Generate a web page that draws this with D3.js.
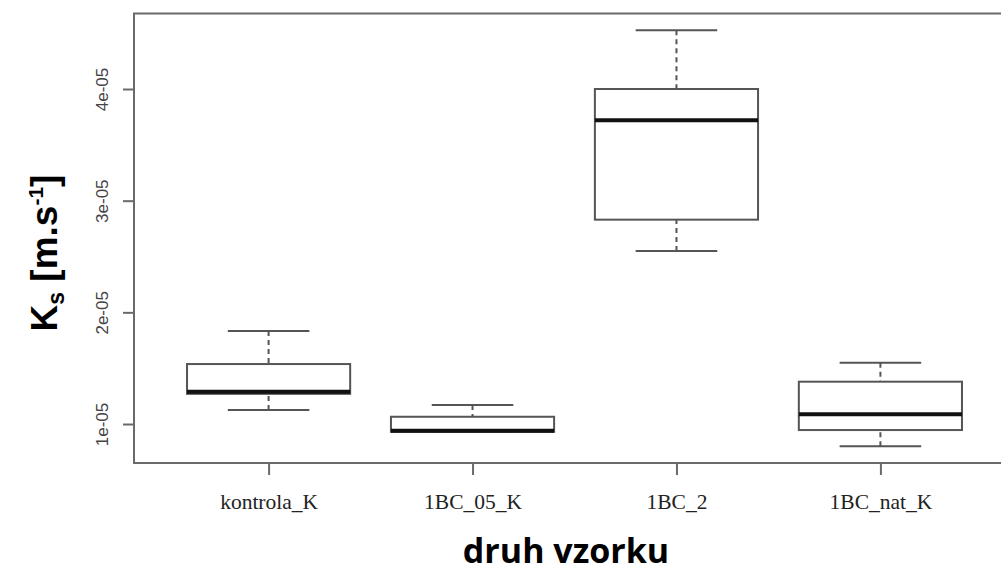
<!DOCTYPE html>
<html>
<head>
<meta charset="utf-8">
<script src="https://cdn.jsdelivr.net/npm/d3@7"></script>
<style>
    html, body { margin: 0; padding: 0; background: #fff; }
    #box-chart { width: 1001px; height: 574px; overflow: hidden; }
</style>
</head>
<body>
<div id="box-chart"></div>
<script>
// data
const categories = ['kontrola_K', '1BC_05_K', '1BC_2', '1BC_nat_K'];
const lowerWhisker = [1.125e-5, 0.93e-5, 2.55e-5, 0.80e-5];
const q1 = [1.27e-5, 0.93e-5, 2.83e-5, 0.946e-5];
const median = [1.29e-5, 0.94e-5, 3.72e-5, 1.087e-5];
const q3 = [1.537e-5, 1.065e-5, 4.00e-5, 1.379e-5];
const upperWhisker = [1.833e-5, 1.17e-5, 4.527e-5, 1.549e-5];
const yTicks = [1e-5, 2e-5, 3e-5, 4e-5];
const yTickLabels = ['1e-05', '2e-05', '3e-05', '4e-05'];

const width = 1001;
const height = 574;
const plot = { left: 134, right: 1015, top: 13.5, bottom: 463 };
const boxWidth = 0.8;
const lineColor = '#555';

const boxes = categories.map((c, i) => ({
    name: c, pos: i + 1,
    lo: lowerWhisker[i], q1: q1[i], med: median[i], q3: q3[i], hi: upperWhisker[i]
}));

// R style ranges: 4% padding
const yMin = d3.min(lowerWhisker);
const yMax = d3.max(upperWhisker);
const yPad = (yMax - yMin) * 0.04;
const xPad = categories.length * 0.04;

const xScale = d3.scaleLinear()
    .domain([0.5 - xPad, categories.length + 0.5 + xPad])
    .range([plot.left, plot.right]);

const yScale = d3.scaleLinear()
    .domain([yMin - yPad, yMax + yPad])
    .range([plot.bottom, plot.top]);

const svg = d3.select('#box-chart')
    .append('svg')
    .attr('width', width)
    .attr('height', height);

// frame
svg.append('rect')
    .attr('x', plot.left)
    .attr('y', plot.top)
    .attr('width', plot.right - plot.left)
    .attr('height', plot.bottom - plot.top)
    .attr('fill', 'none')
    .attr('stroke', '#6a6a6a')
    .attr('stroke-width', 2);

// y axis
const yAxis = svg.append('g')
    .attr('transform', `translate(${plot.left}, 0)`)
    .call(d3.axisLeft(yScale).tickValues(yTicks).tickSize(11).tickPadding(0)
        .tickFormat((d, i) => yTickLabels[i]));

yAxis.select('.domain').remove();
yAxis.selectAll('.tick line')
    .attr('stroke', '#6a6a6a')
    .attr('stroke-width', 2);
yAxis.selectAll('.tick text')
    .attr('x', 0)
    .attr('dy', 0)
    .attr('transform', 'translate(-30, 0) rotate(-90)')
    .style('text-anchor', 'middle')
    .style('dominant-baseline', 'middle')
    .style('font-family', '"Liberation Sans", Arial, sans-serif')
    .style('font-size', '17px')
    .style('fill', '#444');

// x axis
const xAxis = svg.append('g')
    .attr('transform', `translate(0, ${plot.bottom})`)
    .call(d3.axisBottom(xScale).tickValues(boxes.map(b => b.pos)).tickSize(12).tickPadding(19)
        .tickFormat((d, i) => categories[i]));

xAxis.select('.domain').remove();
xAxis.selectAll('.tick line')
    .attr('stroke', '#6a6a6a')
    .attr('stroke-width', 2);
xAxis.selectAll('.tick text')
    .style('font-family', '"Liberation Serif", "Times New Roman", serif')
    .style('font-size', '21.5px')
    .style('fill', '#222');

// boxes
const g = svg.append('g').attr('class', 'boxes');
const half = boxWidth / 2;

boxes.forEach(b => {
    const cx = xScale(b.pos);
    const x0 = xScale(b.pos - half);
    const x1 = xScale(b.pos + half);
    const c0 = xScale(b.pos - half / 2);
    const c1 = xScale(b.pos + half / 2);

    // whiskers
    [[b.hi, b.q3], [b.lo, b.q1]].forEach(([end, edge]) => {
        g.append('line')
            .attr('x1', cx).attr('x2', cx)
            .attr('y1', yScale(end)).attr('y2', yScale(edge))
            .attr('stroke', lineColor)
            .attr('stroke-width', 2)
            .attr('stroke-dasharray', '5,4');
        g.append('line')
            .attr('x1', c0).attr('x2', c1)
            .attr('y1', yScale(end)).attr('y2', yScale(end))
            .attr('stroke', lineColor)
            .attr('stroke-width', 2);
    });

    // box
    g.append('rect')
        .attr('x', x0)
        .attr('y', yScale(b.q3))
        .attr('width', x1 - x0)
        .attr('height', yScale(b.q1) - yScale(b.q3))
        .attr('fill', '#fff')
        .attr('stroke', lineColor)
        .attr('stroke-width', 2);

    // median
    g.append('line')
        .attr('x1', x0).attr('x2', x1)
        .attr('y1', yScale(b.med)).attr('y2', yScale(b.med))
        .attr('stroke', '#111')
        .attr('stroke-width', 4);
});

// y title
const yTitle = svg.append('text')
    .attr('transform', `translate(57, 253) rotate(-90)`)
    .style('text-anchor', 'middle')
    .style('font-family', '"Liberation Sans", Arial, sans-serif')
    .style('font-weight', 'bold')
    .style('font-size', '37px')
    .style('fill', '#000');
yTitle.append('tspan').text('K');
yTitle.append('tspan').attr('dy', 7).style('font-size', '23px').text('s');
yTitle.append('tspan').attr('dy', -7).text(' [m.s');
yTitle.append('tspan').attr('dy', -14).style('font-size', '21px').text('-1');
yTitle.append('tspan').attr('dy', 14).text(']');

// x title
svg.append('text')
    .attr('x', 566)
    .attr('y', 563)
    .style('text-anchor', 'middle')
    .style('font-family', '"Open Sans", sans-serif')
    .style('font-weight', 'bold')
    .style('font-size', '34px')
    .style('fill', '#000')
    .text('druh vzorku');
</script>
</body>
</html>
